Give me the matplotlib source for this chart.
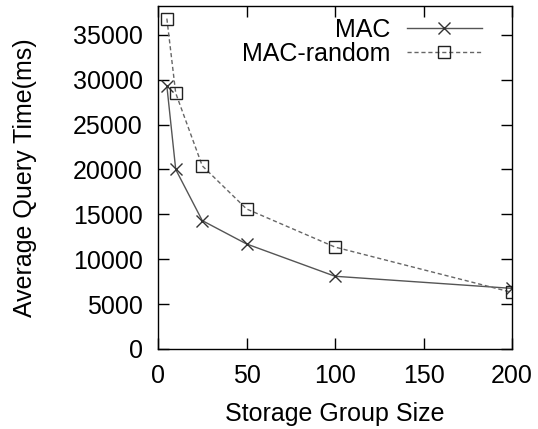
import matplotlib
matplotlib.use("Agg")
import matplotlib.pyplot as plt

plt.rcParams['font.family'] = ['Liberation Sans', 'DejaVu Sans']

# data
group_size = [5, 10, 25, 50, 100, 200]
mac = [29300, 20000, 14300, 11700, 8100, 6750]
mac_random = [36800, 28500, 20400, 15600, 11350, 6300]

fig = plt.figure(figsize=(5.38, 4.29), dpi=100)
ax = fig.add_axes([0.2937, 0.1865, 0.658, 0.7995])

ax.plot(group_size, mac, color='#555555', linewidth=1.0, marker='x',
        markersize=9, markeredgewidth=1.0, markeredgecolor='#333333', label='MAC')
ax.plot(group_size, mac_random, color='#666666', linewidth=1.0, linestyle=(0, (3, 2)),
        marker='s', markersize=9, markeredgewidth=1.0, markeredgecolor='#222222',
        markerfacecolor='none', label='MAC-random')

ax.set_xlim(0, 200)
ax.set_ylim(0, 38200)
ax.set_xticks([0, 50, 100, 150, 200])
ax.set_yticks(range(0, 35001, 5000))

ax.tick_params(direction='in', length=8, width=1, top=True, right=True,
               labelsize=18)
ax.tick_params(axis='x', pad=11)
ax.tick_params(axis='y', pad=11)
for s in ax.spines.values():
    s.set_linewidth(1.0)

ax.set_xlabel('Storage Group Size', fontsize=18, labelpad=10)
ax.set_ylabel('Average Query Time(ms)', fontsize=18, labelpad=26)

ax.legend(loc='upper right', frameon=False, markerfirst=False, fontsize=18,
          handlelength=3.0, handletextpad=0.68, labelspacing=0.0,
          borderpad=0, borderaxespad=0, bbox_to_anchor=(0.915, 0.965))

fig.savefig('out.png', dpi=100)
